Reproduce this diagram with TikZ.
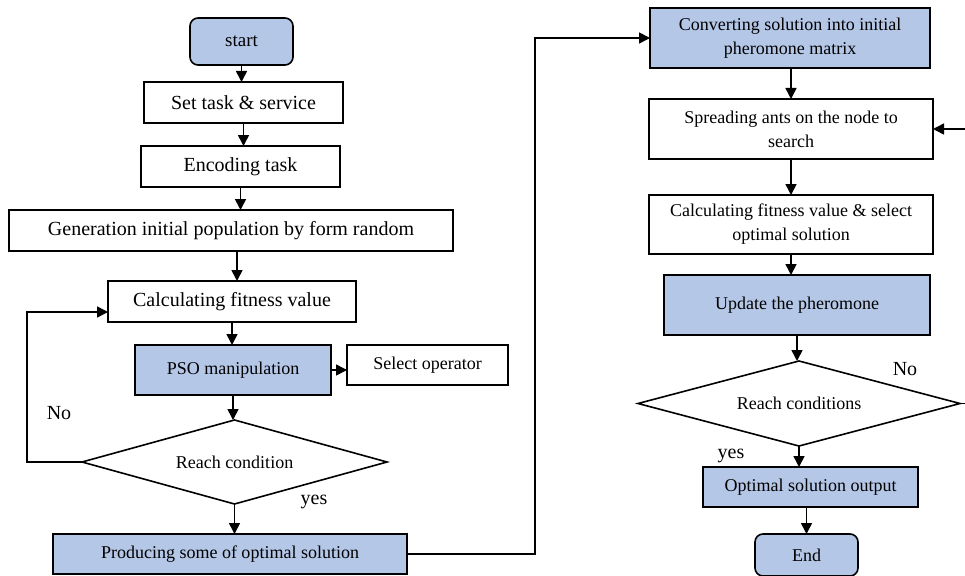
\documentclass[tikz,border=0pt]{standalone}
\usepackage{fontspec}
\setmainfont{Liberation Serif}
\usetikzlibrary{shapes.geometric,arrows.meta}
\definecolor{ablue}{RGB}{180,199,231}
\begin{document}
\begin{tikzpicture}[x=1pt,y=-1pt,
  every node/.style={inner sep=0pt, outer sep=0pt},
  big/.style={font=\fontsize{20}{24}\selectfont},
  small/.style={font=\fontsize{18}{24}\selectfont},
  box/.style={draw, line width=1.6pt, rectangle, align=center},
  bluebox/.style={box, fill=ablue},
  term/.style={bluebox, rounded corners=8pt},
  cond/.style={draw, line width=1.6pt, diamond, shape aspect=3.6, align=center},
  arr/.style={line width=1.6pt, -{Triangle[length=11pt,width=11pt]}},
  ln/.style={line width=1.6pt},
  lbl/.style={big}
]
\useasboundingbox (0,0) rectangle (965,575);

% left column
\node[term, small, font=\fontsize{19}{24}\selectfont, minimum width=103pt, minimum height=47pt] (start) at (241.5,41.5) {start};
\node[box, big, minimum width=199pt, minimum height=41pt] (set) at (243.5,102.5) {Set task \& service};
\node[box, big, minimum width=199pt, minimum height=41pt] (enc) at (240.5,166.5) {Encoding task};
\node[box, big, minimum width=444pt, minimum height=41pt] (gen) at (231,230.5) {Generation initial population by form random};
\node[box, big, minimum width=248pt, minimum height=41pt] (calc) at (232,301.5) {Calculating fitness value};
\node[bluebox, small, minimum width=196pt, minimum height=50pt] (pso) at (233,370) {PSO manipulation};
\node[box, small, minimum width=161pt, minimum height=40pt] (sel) at (427.5,365) {Select operator};
\node[cond, small, minimum width=305pt, minimum height=84pt] (d1) at (234.5,462) {Reach condition};
\node[bluebox, small, minimum width=354pt, minimum height=40pt] (prod) at (230,554) {Producing some of optimal solution};
\node[lbl] (no1) at (59,413) {No};
\node[lbl] (yes1) at (314,502) {yes};

% right column
\node[bluebox, small, minimum width=280pt, minimum height=60pt] (conv) at (790,38) {Converting solution into initial\\pheromone matrix};
\node[box, small, minimum width=284pt, minimum height=60pt] (spread) at (791,129) {Spreading ants on the node to\\search};
\node[box, small, minimum width=284pt, minimum height=59pt] (calc2) at (791,224.5) {Calculating fitness value \& select\\optimal solution};
\node[bluebox, small, minimum width=266pt, minimum height=60pt] (upd) at (797,305) {Update the pheromone};
\node[cond, small, minimum width=322pt, minimum height=85pt] (d2) at (799,403.5) {Reach conditions};
\node[bluebox, small, minimum width=215pt, minimum height=40pt] (opt) at (810.5,487) {Optimal solution output};
\node[term, small, minimum width=103pt, minimum height=42pt] (end) at (806.5,555) {End};
\node[lbl] (no2) at (905,369) {No};
\node[lbl] (yes2) at (731,456) {yes};

% helper coordinates
\coordinate (loopL) at (27,312);
\coordinate (midX) at (535,0);
\coordinate (fbX) at (972,0);

% left connectors
\draw[arr] (start.south) -- (start.south |- set.north);
\draw[arr] (set.south) -- (set.south |- enc.north);
\draw[arr] (enc.south) -- (enc.south |- gen.north);
\draw[arr] (gen.south -| calc.north) ++(5,0) -- ([xshift=5pt]calc.north);
\draw[arr] (calc.south) -- (calc.south |- pso.north);
\draw[arr] (pso.south) -- (pso.south |- d1.north);
\draw[arr] (pso.east) -- (pso.east -| sel.west);
\draw[arr] (d1.south) -- (d1.south |- prod.north);
\draw[arr] (d1.west) -| (loopL) -- (calc.west |- loopL);
\draw[arr] (prod.east) -| (midX |- conv.west) -- (conv.west);

% right connectors
\draw[arr] (conv.south -| spread.north) -- (spread.north);
\draw[arr] (spread.south) -- (spread.south |- calc2.north);
\draw[arr] (calc2.south) -- (calc2.south |- upd.north);
\draw[arr] (upd.south) -- (upd.south |- d2.north);
\draw[arr] (d2.south) -- (d2.south |- opt.north);
\draw[arr] (opt.south -| end.north) -- (end.north);
\draw[arr] (d2.east) -| (fbX |- spread.east) -- (spread.east);
\end{tikzpicture}
\end{document}
